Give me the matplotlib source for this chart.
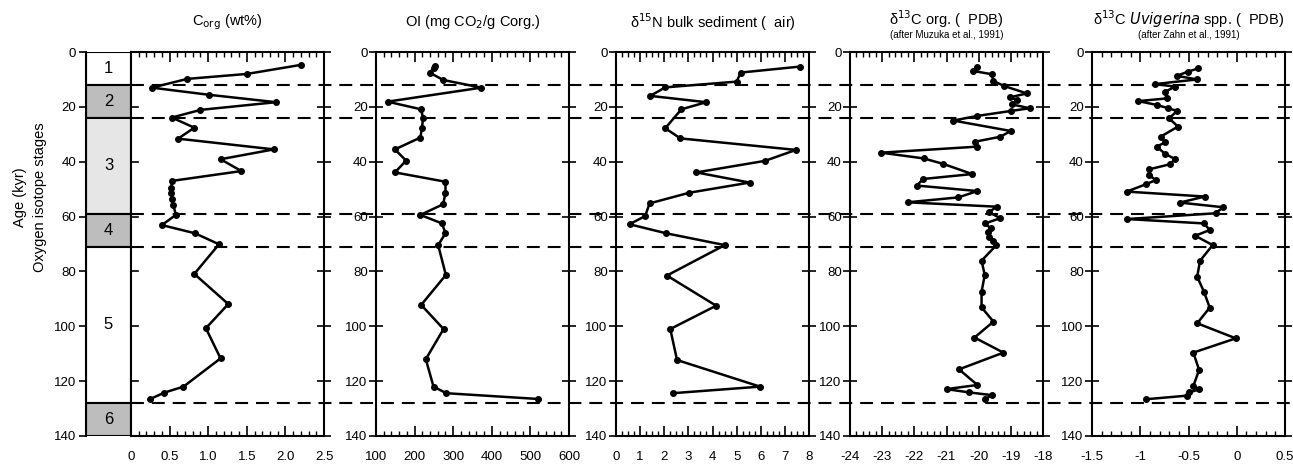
import matplotlib
matplotlib.use('Agg')
import matplotlib.pyplot as plt
import matplotlib.transforms as mtrans
from matplotlib.ticker import MultipleLocator

plt.rcParams['font.family'] = ['Liberation Sans', 'DejaVu Sans']
plt.rcParams['axes.unicode_minus'] = False
plt.rcParams['axes.linewidth'] = 1.5

# стадии изотопов кислорода
stage_names = ['1', '2', '3', '4', '5', '6']
stage_bounds = [0, 12, 24, 59, 71, 128, 140]
stage_colors = ['white', '#bdbdbd', '#e6e6e6', '#bdbdbd', 'white', '#bdbdbd']

# Corg (wt%)
corg_age = [4.7, 8.0, 9.8, 13.0, 15.6, 18.3, 21.1, 23.9, 27.6, 31.6, 35.5, 39.1,
            43.4, 47.0, 49.5, 51.5, 53.6, 55.8, 59.4, 63.1, 66.1, 70.1, 80.9,
            91.9, 100.7, 111.7, 122.0, 124.2, 126.5]
corg_val = [2.20, 1.50, 0.73, 0.27, 1.01, 1.88, 0.90, 0.53, 0.82, 0.61, 1.85, 1.16,
            1.43, 0.53, 0.52, 0.52, 0.53, 0.55, 0.58, 0.40, 0.83, 1.14, 0.82,
            1.26, 0.97, 1.16, 0.68, 0.43, 0.25]

# OI (mg CO2/g Corg.)
oi_age = [5.0, 5.9, 7.5, 10.2, 13.0, 18.1, 20.9, 24.2, 27.6, 31.2, 35.5, 39.6,
          43.9, 47.3, 51.3, 55.5, 59.4, 62.5, 66.1, 70.4, 81.3, 92.2, 101.0,
          112.0, 122.0, 124.4, 126.5]
oi_val = [252, 249, 239, 274, 373, 130, 217, 222, 219, 215, 149, 178,
          149, 280, 280, 274, 215, 271, 280, 261, 281, 217, 275,
          229, 249, 282, 520]

# d15N bulk sediment
n15_age = [5.3, 7.5, 10.8, 12.9, 16.0, 18.3, 20.9, 27.8, 31.5, 35.7, 39.7, 43.9,
           47.6, 51.3, 55.2, 59.8, 62.8, 66.1, 70.4, 81.5, 92.5, 101.0, 112.3,
           122.0, 124.4]
n15_val = [7.64, 5.17, 5.00, 2.04, 1.42, 3.74, 2.71, 2.04, 2.67, 7.46, 6.17, 3.33,
           5.54, 3.04, 1.39, 1.21, 0.56, 2.08, 4.51, 2.11, 4.15, 2.25, 2.53,
           5.97, 2.35]

# d13C org (Muzuka et al., 1991)
c13org_age = [5.6, 6.9, 8.1, 10.6, 12.4, 15.1, 16.5, 17.5, 19.1, 20.5, 21.5,
              23.3, 25.0, 28.8, 30.9, 32.7, 34.5, 36.7, 38.8, 40.8, 44.5, 46.3,
              48.7, 50.7, 53.0, 54.8, 56.4, 58.4, 60.6, 62.5, 64.3, 65.8, 67.3,
              69.0, 70.4, 76.1, 81.3, 87.4, 93.1, 98.3, 104.1, 109.6, 115.7,
              121.4, 122.9, 124.1, 125.1, 126.6]
c13org_val = [-20.04, -20.18, -19.59, -19.54, -19.21, -18.50, -19.02, -18.82,
              -18.97, -18.41, -19.00, -20.04, -20.79, -19.00, -19.33, -20.11,
              -20.04, -23.03, -21.71, -21.10, -20.20, -21.73, -21.92, -20.04,
              -20.63, -22.21, -19.44, -19.68, -19.33, -19.80, -19.63, -19.70,
              -19.68, -19.55, -19.45, -19.91, -19.81, -19.91, -19.91, -19.54,
              -20.13, -19.23, -20.61, -20.04, -21.00, -20.30, -19.59, -19.80]

# d13C Uvigerina spp. (Zahn et al., 1991)
uvi_age = [6.0, 7.2, 8.7, 10.0, 11.7, 12.6, 14.5, 16.9, 17.9, 19.3, 20.5, 21.5,
           24.2, 27.2, 30.9, 32.9, 34.5, 37.2, 39.0, 40.9, 42.8, 44.8, 46.7,
           48.2, 50.9, 52.7, 54.9, 56.6, 58.8, 60.9, 62.5, 64.9, 67.0, 70.4,
           76.1, 81.9, 87.4, 93.2, 98.9, 104.4, 109.6, 115.9, 121.8, 123.0,
           124.1, 125.3, 126.6]
uvi_val = [-0.40, -0.51, -0.62, -0.41, -0.85, -0.64, -0.74, -0.72, -1.02, -0.83,
           -0.71, -0.62, -0.70, -0.61, -0.79, -0.74, -0.83, -0.74, -0.64, -0.69,
           -0.91, -0.91, -0.84, -0.94, -1.14, -0.33, -0.59, -0.14, -0.22, -1.14,
           -0.34, -0.28, -0.43, -0.25, -0.38, -0.41, -0.34, -0.28, -0.41, -0.01,
           -0.45, -0.39, -0.45, -0.39, -0.49, -0.52, -0.94]

boundaries = [12, 24, 59, 71, 128]

W, H = 1293, 467
fig = plt.figure(figsize=(W / 100, H / 100), dpi=100)

bottom = 1 - 436 / H
height = (436 - 52) / H
pw = 193 / W

# колонка со стадиями
ax0 = fig.add_axes([86 / W, bottom, 45 / W, height])
for i in range(len(stage_names)):
    lo, hi = stage_bounds[i], stage_bounds[i + 1]
    ax0.barh((lo + hi) / 2, 1, height=hi - lo, left=0, color=stage_colors[i],
             edgecolor='black', linewidth=1.5)
    ax0.text(0.5, (lo + hi) / 2, stage_names[i], ha='center', va='center',
             fontsize=12)
ax0.set_xlim(0, 1)
ax0.set_ylim(140, 0)
ax0.set_xticks([])
ax0.set_yticks(range(0, 141, 20))
ax0.tick_params(axis='y', direction='out', length=5, width=1.2, pad=2,
                labelsize=9.5)
for s in ['top', 'right', 'bottom']:
    ax0.spines[s].set_visible(False)
fig.text(20 / W, 1 - 197 / H, 'Age (kyr)', rotation=90, ha='center',
         va='center', fontsize=10.5)
fig.text(40 / W, 1 - 197 / H, 'Oxygen isotope stages', rotation=90,
         ha='center', va='center', fontsize=10.5)

panels = [
    (131, corg_val, corg_age, (0, 2.5), 0.5, 0.1,
     ['0', '0.5', '1.0', '1.5', '2.0', '2.5'], r'C$_{\rm org}$ (wt%)', None),
    (376, oi_val, oi_age, (100, 600), 100, 20,
     ['100', '200', '300', '400', '500', '600'], r'OI (mg CO$_2$/g Corg.)', None),
    (616, n15_val, n15_age, (0, 8), 1, 0.25,
     [str(i) for i in range(9)], 'δ$^{15}$N bulk sediment (  air)', None),
    (850, c13org_val, c13org_age, (-24, -18), 1, 0.2,
     [str(i) for i in range(-24, -17)], 'δ$^{13}$C org. (  PDB)',
     '(after Muzuka et al., 1991)'),
    (1092, uvi_val, uvi_age, (-1.5, 0.5), 0.5, 0.1,
     ['-1.5', '-1', '-0.5', '0', '0.5'],
     r'δ$^{13}$C $\it{Uvigerina}$ spp. (  PDB)', '(after Zahn et al., 1991)'),
]

axes = []
for k, (x0, vals, ages, xl, maj, mnr, labs, title, sub) in enumerate(panels):
    ax = fig.add_axes([x0 / W, bottom, pw, height])
    ax.plot(vals, ages, '-o', color='black', lw=1.8, ms=4)
    ax.set_xlim(*xl)
    ax.set_ylim(140, 0)
    ticks = [xl[0] + maj * i for i in range(len(labs))]
    ax.set_xticks(ticks)
    ax.set_xticklabels(labs)
    ax.xaxis.set_minor_locator(MultipleLocator(mnr))
    ax.tick_params(axis='x', which='major', direction='in', top=True,
                   bottom=True, length=7, width=1.2, pad=11, labelsize=9.5)
    ax.tick_params(axis='x', which='minor', direction='in', top=True,
                   bottom=True, length=3.5, width=1.0)
    ax.set_yticks(range(0, 141, 20))
    ax.tick_params(axis='y', direction='inout', left=True, right=True,
                   length=10, width=1.2, labelsize=9.5, pad=1)
    if k == 0:
        # слева у Corg штрихи только внутрь
        ax.tick_params(axis='y', which='major', left=False, labelleft=False)
        for yt in range(20, 121, 20):
            ax.plot([0, 0.09], [yt, yt], color='black', lw=1.2, zorder=5)
    if sub is None:
        ax.text(0.5, 1.078, title, transform=ax.transAxes, ha='center',
                va='center', fontsize=10.5)
    else:
        ax.text(0.5, 1.085, title, transform=ax.transAxes, ha='center',
                va='center', fontsize=10.5)
        ax.text(0.5, 1.044, sub, transform=ax.transAxes, ha='center',
                va='center', fontsize=7)
    axes.append(ax)

# пунктир по границам стадий через все панели
tr = mtrans.blended_transform_factory(fig.transFigure, axes[0].transData)
for b in boundaries:
    fig.add_artist(plt.Line2D([131 / W, 1.0], [b, b], transform=tr,
                              color='black', lw=1.5, dashes=(6.2, 3.8)))

fig.savefig('out.png', dpi=100)
